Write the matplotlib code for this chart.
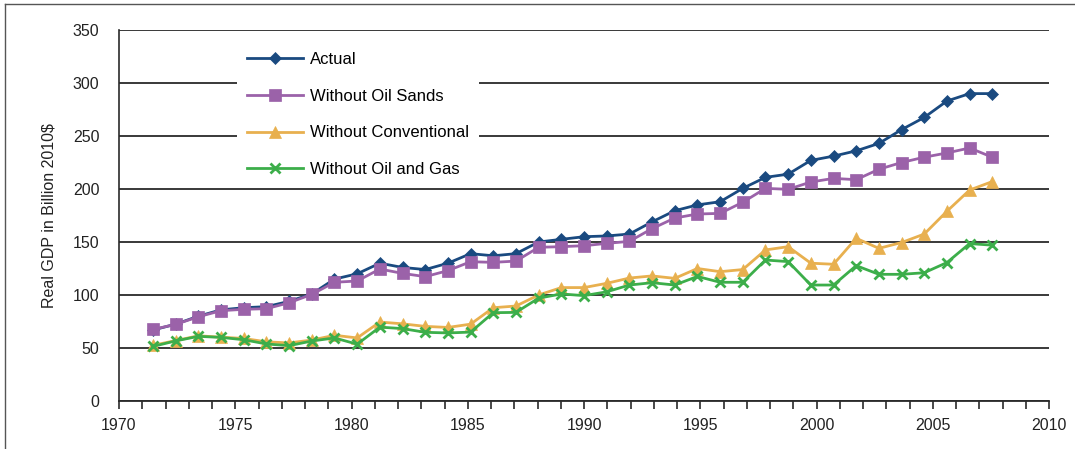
import matplotlib
matplotlib.use("Agg")
import matplotlib.pyplot as plt
from matplotlib.lines import Line2D
from matplotlib.ticker import FixedLocator

plt.rcParams['font.family'] = ['Liberation Sans', 'DejaVu Sans']

years = list(range(1971, 2009))
actual = [67, 72.5, 80, 86, 88, 89, 94, 101, 115, 120, 130, 126, 124, 130, 139, 137, 139,
          150, 152.5, 155, 155.7, 157.5, 169, 179.5, 185, 188, 200.6, 211, 214, 227, 231,
          236, 243, 256, 267.5, 283, 290, 290]
no_oil_sands = [67.5, 72.3, 79.5, 85.2, 86.5, 87.1, 92.7, 100.6, 112, 113.2, 124.5, 120.4,
                117.3, 123, 131.4, 130.8, 132, 145, 145.6, 146.5, 148.7, 150.6, 162.6, 172.6,
                176.4, 177, 187.5, 200.6, 199.7, 206.6, 210, 208.8, 218.6, 225, 230, 234,
                238.7, 230]
no_conventional = [52.5, 57, 61.5, 60.2, 59, 55.8, 54.8, 57.5, 62, 59.5, 74.5, 72.8, 70.4,
                   69.4, 72.5, 88, 89.6, 100, 107, 107, 111, 116, 118, 115.7, 125, 122, 124,
                   142.5, 145.6, 130, 129, 153.5, 144, 149.5, 157.5, 179, 199, 207]
no_oil_gas = [51.5, 56.7, 61, 60, 57.8, 53.8, 52.2, 56.6, 59.5, 53.6, 69.7, 68.3, 64.8, 64.2,
              65, 83.3, 83.6, 97, 101, 99.4, 103, 109.4, 111.6, 109.4, 117.5, 112, 112, 133,
              131.5, 109.4, 109.4, 127.7, 119.5, 119.5, 121, 130.6, 148.5, 147]

labels = ["Actual", "Without Oil Sands", "Without Conventional", "Without Oil and Gas"]
xtick_major = list(range(1970, 2011, 5))
xtick_minor = list(range(1970, 2011, 1))

colors = ["#1a4a80", "#9b62a9", "#e8b04f", "#3cae4a"]
markers = ["D", "s", "^", "x"]
msizes = [6.5, 8, 8.5, 7.5]

W, H = 1075, 449
fig = plt.figure(figsize=(W / 100, H / 100), dpi=100)
ax = fig.add_axes([119 / W, 1 - 401 / H, (1049 - 119) / W, (401 - 30) / H])

series = [actual, no_oil_sands, no_conventional, no_oil_gas]
for vals, lab, c, m, ms in zip(series, labels, colors, markers, msizes):
    ax.plot(years, vals, color=c, marker=m, markersize=ms, lw=2, label=lab,
            markeredgewidth=2 if m == "x" else 0.5, markeredgecolor=c, zorder=3)

ax.set_xlim(1969.5, 2010.5)
ax.set_ylim(0, 350)
ax.set_yticks(range(0, 351, 50))
ax.yaxis.grid(True, color="#2a2a2a", lw=1.3, zorder=1)
ax.set_axisbelow(True)
for s in ["top", "right"]:
    ax.spines[s].set_visible(False)
ax.spines["left"].set_color("#2a2a2a")
ax.spines["left"].set_linewidth(1.2)
ax.spines["bottom"].set_color("#2a2a2a")
ax.spines["bottom"].set_linewidth(1.3)
ax.tick_params(axis="y", length=0, pad=14, labelsize=11.5, colors="#222222")
ax.tick_params(axis="x", bottom=False, labelbottom=False)

fwd = lambda x: 1970 + (x - 1969.5) * 40 / 41
inv = lambda t: 1969.5 + (t - 1970) * 41 / 40
sec = ax.secondary_xaxis("bottom", functions=(fwd, inv))
sec.xaxis.set_major_locator(FixedLocator(xtick_major))
sec.xaxis.set_minor_locator(FixedLocator(xtick_minor))
sec.set_xticklabels([str(t) for t in xtick_major])
sec.tick_params(which="both", direction="out", length=6, width=1.2, color="#2a2a2a",
                labelsize=11.5, labelcolor="#222222", pad=6)
sec.spines["bottom"].set_visible(False)

ax.set_ylabel("Real GDP in Billion 2010$", fontsize=11.5, color="#222222", labelpad=12)

leg = ax.legend(loc="upper left", bbox_to_anchor=(0.118, 0.99), frameon=True,
                facecolor="white", edgecolor="white", framealpha=1, fontsize=12,
                handlelength=3.35, handletextpad=0.42, labelspacing=1.3, borderpad=0.6)
leg.get_frame().set_linewidth(0)

fig.add_artist(Line2D([5 / W, 5 / W], [0, 1 - 4 / H], transform=fig.transFigure,
                      color="#555555", lw=1))
fig.add_artist(Line2D([5 / W, 1], [1 - 4 / H, 1 - 4 / H], transform=fig.transFigure,
                      color="#555555", lw=1))

fig.savefig("out.png", dpi=100)
